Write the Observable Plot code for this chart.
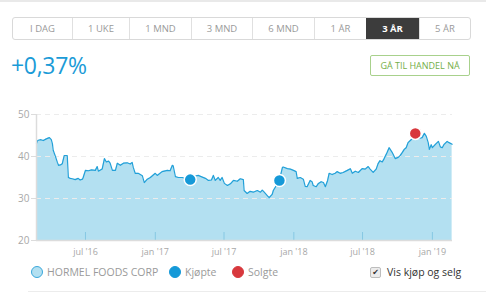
<!DOCTYPE html>
<html><head><meta charset="utf-8">
<script src="https://cdn.jsdelivr.net/npm/d3@7"></script>
<script src="https://cdn.jsdelivr.net/npm/@observablehq/plot@0.6"></script>
<style>
body{margin:0;width:486px;height:293px;overflow:hidden;background:#fff;font-family:"Open Sans",sans-serif;position:relative}
.topline{position:absolute;left:0;top:0;width:486px;height:2px;background:#e9e9e9}
.tabs{position:absolute;left:12px;top:17px;height:21px;display:flex;border:1px solid #d9d9d9;border-radius:3px;overflow:hidden}
.tab{box-sizing:border-box;height:21px;line-height:21px;text-align:center;font-size:9.5px;color:#9a9a9a;border-left:1px solid #e0e0e0}
.tab:first-child{border-left:none}
.tab.active{background:#3c3c3c;color:#fff;font-weight:700;border-left:none}
.pct{position:absolute;left:11px;top:51px;font-size:23px;line-height:28px;color:#1b9bd7;letter-spacing:-0.3px}
.btn{position:absolute;left:370px;top:55px;width:100px;height:21px;box-sizing:border-box;border:1px solid #a8d18c;border-radius:2px;color:#74ae48;font-size:9px;line-height:19px;text-align:center}
#chart{position:absolute;left:0;top:100px}
.leg{position:absolute;top:265px;height:14px;display:flex;align-items:center;font-size:10.5px;color:#9a9a9a}
.dot{display:inline-block;width:12px;height:12px;border-radius:50%;box-sizing:border-box;margin-right:4px}
.chk{display:inline-block;width:9px;height:9px;border:1px solid #bdbdbd;background:#ececec;border-radius:2px;margin-right:6px;font-size:8px;line-height:9px;text-align:center;color:#333;font-family:"DejaVu Sans"}
.bottomline{position:absolute;left:28px;top:291px;width:458px;height:1px;background:#ececec}
</style></head>
<body>
<div class="topline"></div>
<div class="tabs" id="tabs"></div>
<div class="pct" id="pct"></div>
<div class="btn" id="btn"></div>
<div id="chart"></div>
<div id="legend"></div>
<div class="bottomline"></div>
<script>
const tabLabels = ["I DAG","1 UKE","1 MND","3 MND","6 MND","1 ÅR","3 ÅR","5 ÅR"];
const activeTab = "3 ÅR";
const changeText = "+0,37%";
const buttonText = "GÅ TIL HANDEL NÅ";
const seriesName = "HORMEL FOODS CORP";
const buyLabel = "Kjøpte";
const sellLabel = "Solgte";
const toggleLabel = "Vis kjøp og selg";

const dates = ["2016-02-23","2016-02-26","2016-03-04","2016-03-12","2016-03-20","2016-03-28","2016-04-02","2016-04-05","2016-04-07","2016-04-13","2016-04-18","2016-04-21","2016-04-26","2016-05-01","2016-05-06","2016-05-14","2016-05-17","2016-05-22","2016-05-27","2016-06-04","2016-06-12","2016-06-17","2016-06-23","2016-06-25","2016-07-01","2016-07-09","2016-07-17","2016-07-27","2016-08-01","2016-08-04","2016-08-14","2016-08-20","2016-08-25","2016-08-31","2016-09-04","2016-09-10","2016-09-18","2016-09-23","2016-10-01","2016-10-09","2016-10-19","2016-10-27","2016-11-01","2016-11-04","2016-11-09","2016-11-17","2016-11-28","2016-12-03","2016-12-11","2016-12-19","2017-01-01","2017-01-06","2017-01-19","2017-02-02","2017-02-09","2017-02-15","2017-02-17","2017-02-23","2017-03-03","2017-03-13","2017-03-24","2017-04-03","2017-04-14","2017-04-24","2017-05-05","2017-05-13","2017-05-21","2017-05-29","2017-06-03","2017-06-08","2017-06-16","2017-06-21","2017-06-26","2017-07-02","2017-07-10","2017-07-18","2017-07-26","2017-08-05","2017-08-13","2017-08-21","2017-08-23","2017-08-31","2017-09-08","2017-09-16","2017-09-27","2017-10-05","2017-10-10","2017-10-15","2017-10-23","2017-10-28","2017-11-05","2017-11-08","2017-11-16","2017-11-24","2017-12-02","2017-12-04","2017-12-15","2017-12-23","2017-12-31","2018-01-07","2018-01-10","2018-01-18","2018-01-26","2018-01-31","2018-02-05","2018-02-13","2018-02-18","2018-02-21","2018-03-01","2018-03-06","2018-03-14","2018-03-20","2018-03-25","2018-03-31","2018-04-04","2018-04-12","2018-04-20","2018-04-25","2018-05-03","2018-05-11","2018-05-22","2018-05-30","2018-06-04","2018-06-12","2018-06-20","2018-06-30","2018-07-08","2018-07-16","2018-07-21","2018-07-29","2018-08-06","2018-08-11","2018-08-16","2018-08-22","2018-08-27","2018-09-04","2018-09-09","2018-09-17","2018-09-25","2018-10-03","2018-10-08","2018-10-14","2018-10-19","2018-10-24","2018-10-29","2018-11-06","2018-11-17","2018-11-27","2018-12-05","2018-12-11","2018-12-16","2018-12-21","2018-12-24","2018-12-29","2019-01-01","2019-01-09","2019-01-17","2019-01-22","2019-01-27","2019-02-01","2019-02-09","2019-02-14","2019-02-22"];
const prices = [43.1,43.8,44.0,43.8,44.2,44.5,44.0,43.0,41.5,40.0,38.6,37.9,38.0,38.3,40.2,40.2,35.0,34.8,34.7,34.5,34.8,34.4,34.6,35.0,36.7,36.6,36.8,36.7,37.6,36.5,37.0,39.5,38.7,38.9,38.4,36.7,36.7,38.4,37.9,38.4,38.5,38.2,38.6,37.4,36.0,36.0,35.4,33.8,34.6,35.0,36.0,35.5,36.4,36.7,36.6,37.9,37.8,35.2,35.0,35.0,34.7,34.8,35.3,35.5,35.1,34.8,34.3,34.4,35.5,34.3,35.0,34.3,35.0,33.6,33.1,33.5,34.3,34.1,34.7,34.5,31.9,31.2,31.7,31.5,31.9,31.5,32.0,31.5,30.7,30.2,31.0,31.9,33.1,34.3,37.4,37.5,37.1,37.0,36.7,36.4,34.8,35.0,34.6,32.9,32.8,34.3,34.0,33.1,32.8,33.5,34.0,33.8,32.8,34.3,36.0,35.7,36.0,36.4,36.0,36.2,36.7,37.1,36.0,36.5,36.2,37.1,37.0,37.6,37.0,36.2,37.0,38.3,39.0,38.7,39.5,41.0,42.1,41.0,39.5,39.8,40.2,41.0,41.7,42.1,43.3,44.0,44.8,44.3,44.5,45.5,44.8,43.3,41.7,42.8,42.1,42.9,43.6,42.3,42.1,42.9,43.6,43.3,42.9];

const tradeDates = ["2017-04-03","2017-11-24","2018-11-17"];
const tradePrices = [34.5,34.3,45.5];
const tradeTypes = ["Kjøpte","Kjøpte","Solgte"];

const xDomainDates = ["2016-02-23","2019-02-23"];
const xTickDates = ["2016-07-01","2017-01-01","2017-07-01","2018-01-01","2018-07-01","2019-01-01"];
const xTickLabels = ["jul '16","jan '17","jul '17","jan '18","jul '18","jan '19"];
const yTicks = [20,30,40,50];

const colors = {area:"#b3e0f1", line:"#22a0d8", buy:"#1599d8", sell:"#d8383d", tick:"#86c8e3", axis:"#dcdcdc", text:"#a8a8a8"};

// header
const tabs = document.getElementById("tabs");
const tabWidths = [59,57,62,61,62,52,53,51];
tabLabels.forEach((t,i)=>{
  const d=document.createElement("div");
  d.className="tab"+(t===activeTab?" active":"");
  d.style.width=tabWidths[i]+"px";
  d.textContent=t; tabs.appendChild(d);
});
document.getElementById("pct").textContent=changeText;
document.getElementById("btn").textContent=buttonText;

const parse = d3.utcParse("%Y-%m-%d");
const data = dates.map((d,i)=>({date:parse(d), price:prices[i]}));
const trades = tradeDates.map((d,i)=>({date:parse(d), price:tradePrices[i], type:tradeTypes[i]}));
const xDomain = xDomainDates.map(parse);
const xTicks = xTickDates.map(parse);

const W=486, H=165, mT=14, mB=25, mL=36, mR=34;
const chart = Plot.plot({
  width:W, height:H, marginTop:mT, marginBottom:mB, marginLeft:mL, marginRight:mR,
  style:{fontFamily:"Open Sans, sans-serif", fontSize:"9.5px", background:"transparent", overflow:"visible"},
  x:{type:"utc", domain:xDomain, label:null},
  y:{domain:[yTicks[0], yTicks[yTicks.length-1]], label:null},
  marks:[
    Plot.areaY(data,{x:"date", y1:yTicks[0], y2:"price", fill:colors.area}),
    Plot.ruleY(yTicks.slice(1),{stroke:"#ececec", strokeDasharray:"5,4"}),
    Plot.ruleX(xTicks,{stroke:colors.tick, insetTop:H-mT-mB-8}),
    Plot.lineY(data,{x:"date", y:"price", stroke:colors.line, strokeWidth:1.2}),
    Plot.ruleY([yTicks[0]],{stroke:colors.axis, strokeWidth:1.5}),
    Plot.ruleX([xDomain[0]],{stroke:colors.axis, strokeWidth:1.5}),
    Plot.dot(trades,{x:"date", y:"price", r:6, fill:d=>d.type===sellLabel?colors.sell:colors.buy, stroke:"#fff", strokeWidth:1.5}),
    Plot.axisY({ticks:yTicks, tickSize:5, tickPadding:2, color:colors.text, stroke:colors.axis, fontSize:10, label:null}),
    Plot.axisX({ticks:xTicks, tickSize:0, tickPadding:8, color:colors.text, fontSize:9, label:null,
      tickFormat:d=>xTickLabels[xTicks.findIndex(t=>+t===+d)]})
  ]
});
document.getElementById("chart").appendChild(chart);

// legend
const legend = document.getElementById("legend");
const legItems = [
  {label:seriesName, left:31, fill:colors.area, stroke:"#3aa8db"},
  {label:buyLabel, left:169, fill:colors.buy, stroke:colors.buy},
  {label:sellLabel, left:232, fill:colors.sell, stroke:colors.sell}
];
legItems.forEach(it=>{
  const d=document.createElement("div"); d.className="leg"; d.style.left=it.left+"px";
  const c=document.createElement("span"); c.className="dot";
  c.style.background=it.fill; c.style.border="1.5px solid "+it.stroke;
  d.appendChild(c); d.appendChild(document.createTextNode(it.label));
  legend.appendChild(d);
});
const tg=document.createElement("div"); tg.className="leg"; tg.style.left="370px"; tg.style.color="#333";
const box=document.createElement("span"); box.className="chk"; box.textContent="✔";
tg.appendChild(box); tg.appendChild(document.createTextNode(toggleLabel));
legend.appendChild(tg);
</script>
</body></html>
